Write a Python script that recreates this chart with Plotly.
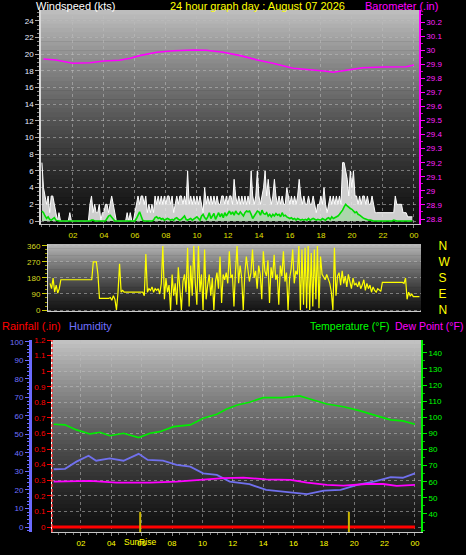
import plotly.graph_objects as go

W, H = 466, 555

# ---------------- DATA ----------------
hours10 = [round(i * 0.1, 1) for i in range(240)]

wind_gust = [
    7, 4, 3, 2, 3, 1, 3, 3, 2, 1,
    0, 1, 0, 0, 0, 0, 0, 0, 1, 0,
    0, 0, 0, 0, 0, 0, 0, 0, 0, 0,
    0, 2, 3, 1, 2, 1, 1, 2, 0, 1,
    1, 2, 2, 1, 2, 3, 2, 1, 0, 0,
    0, 0, 0, 0, 0, 1, 0, 1, 0, 0,
    1, 2, 3, 2, 3, 3, 2, 3, 1, 2,
    1, 2, 1, 3, 2, 3, 2, 3, 2, 3,
    2, 3, 3, 2, 3, 1, 2, 3, 2, 3,
    3, 2, 3, 2, 6, 2, 3, 2, 3, 2,
    3, 2, 3, 2, 1, 4, 2, 3, 2, 3,
    2, 3, 2, 3, 2, 2, 3, 3, 2, 3,
    2, 3, 3, 2, 5, 3, 2, 3, 2, 3,
    2, 3, 2, 3, 2, 6, 3, 2, 3, 6,
    3, 2, 3, 4, 6, 3, 5, 3, 2, 3,
    5, 3, 2, 3, 2, 3, 2, 2, 4, 3,
    2, 3, 2, 3, 2, 3, 5, 3, 2, 3,
    2, 2, 3, 2, 2, 3, 2, 1, 2, 2,
    3, 2, 4, 2, 1, 2, 3, 2, 3, 2,
    3, 2, 3, 2, 7, 7, 6, 5, 3, 6,
    4, 6, 3, 3, 2, 3, 2, 3, 3, 2,
    3, 2, 2, 3, 2, 1, 1, 1, 1, 1,
    1, 1, 1, 1, 1, 1, 1, 1, 3, 2,
    2, 2, 2, 1, 1, 1, 0.5, 0.5, 0.5, 0.5,
]

wind_avg = [
    1.2, 1.0, 0.6, 0.3, 0.5, 0.2, 0.1, 0.3, 0.4, 0.1,
    0, 0, 0, 0, 0, 0, 0, 0, 0, 0,
    0, 0, 0, 0, 0, 0, 0, 0, 0, 0,
    0, 0, 0.1, 0.1, 0, 0, 0, 0, 0, 0,
    0, 0, 0.3, 0.6, 0.7, 0.5, 0.2, 0, 0, 0,
    0, 0, 0, 0, 0, 0, 0, 0, 0, 0,
    0, 0.3, 0.8, 1.1, 0.6, 0.1, 0, 0, 0, 0,
    0, 0, 0.1, 0.4, 0.5, 0.3, 0.4, 0.2, 0.3, 0.1,
    0.2, 0.3, 0.2, 0.1, 0.2, 0.1, 0.3, 0.4, 0.2, 0.1,
    0.2, 0.4, 0.6, 0.2, 0.1, 0.2, 0.3, 0.1, 0.2, 0.3,
    0.5, 0.3, 0.1, 0.6, 0.8, 0.4, 0.2, 0.5, 1.0, 0.3,
    0.6, 0.9, 0.2, 0.7, 1.0, 0.5, 0.9, 0.4, 1.0, 0.6,
    0.9, 1.2, 0.8, 1.1, 0.7, 1.2, 0.9, 0.8, 1.1, 0.9,
    0.6, 1.0, 1.2, 1.1, 1.2, 0.8, 0.3, 0.6, 1.0, 1.2,
    1.1, 0.7, 1.3, 0.9, 0.8, 1.0, 0.6, 0.8, 0.5, 0.8,
    0.6, 0.9, 0.7, 0.8, 0.5, 1.0, 0.6, 0.7, 0.5, 0.4,
    0.3, 0.4, 0.2, 0.3, 0.1, 0.3, 0.2, 0.1, 0.2, 0.1,
    0.2, 0.1, 0.3, 0.1, 0.2, 0.3, 0.2, 0.1, 0.2, 0.1,
    0.1, 0.3, 0.2, 0.1, 0.3, 0.4, 0.2, 0.5, 0.3, 0.4,
    0.4, 0.6, 0.8, 1.0, 1.3, 1.7, 2.0, 1.8, 1.6, 1.5,
    1.4, 1.2, 1.0, 1.1, 0.8, 0.7, 0.5, 0.4, 0.3, 0.2,
    0.2, 0.1, 0.1, 0, 0, 0, 0, 0, 0, 0,
    0, 0, 0, 0, 0, 0, 0, 0.1, 0, 0,
    0, 0, 0, 0, 0, 0, 0, 0, 0, 0,
]

wind_dir = [
    150, 120, 180, 100, 140, 95, 120, 170, 170, 170,
    170, 170, 170, 170, 170, 170, 170, 170, 170, 170,
    170, 170, 170, 170, 170, 170, 170, 170, 270, 270,
    270, 200, 65, 65, 65, 65, 65, 65, 65, 70,
    55, 80, 60, 0, 100, 260, 100, 110, 100, 100,
    100, 100, 100, 100, 100, 100, 100, 100, 100, 100,
    100, 80, 315, 100, 120, 110, 130, 100, 120, 110,
    120, 90, 150, 360, 60, 180, 100, 140, 0, 200,
    80, 150, 30, 240, 120, 0, 160, 200, 100, 350,
    20, 250, 80, 360, 150, 30, 360, 100, 200, 0,
    340, 60, 140, 200, 80, 180, 0, 160, 210, 120,
    300, 40, 200, 170, 210, 150, 330, 180, 200, 20,
    220, 360, 150, 250, 180, 0, 200, 300, 230, 160,
    210, 340, 180, 220, 120, 250, 200, 60, 330, 220,
    190, 280, 40, 240, 180, 310, 170, 200, 30, 250,
    190, 330, 160, 210, 0, 180, 230, 340, 150, 220,
    200, 360, 0, 340, 30, 350, 10, 360, 0, 320,
    20, 340, 60, 360, 10, 300, 200, 180, 170, 200,
    180, 150, 100, 0, 350, 80, 190, 210, 140, 220,
    150, 190, 130, 200, 160, 120, 180, 140, 150, 130,
    160, 120, 140, 170, 110, 150, 120, 140, 100, 130,
    110, 100, 120, 110, 105, 155, 155, 155, 155, 155,
    155, 155, 155, 155, 155, 155, 155, 155, 155, 150,
    180, 60, 100, 80, 90, 75, 75, 75, 75, 75,
]

baro_hours = [0.1, 0.9, 2.0, 3.1, 4.0, 5.0, 5.7, 6.3, 7.4, 8.5, 9.8, 10.6, 11.7,
              12.8, 13.9, 14.9, 16.2, 17.1, 18.2, 18.8, 19.9, 20.7, 22.0, 23.5, 24.0]
baro = [29.937, 29.930, 29.907, 29.911, 29.923, 29.928, 29.942, 29.961, 29.985,
        29.996, 30.001, 29.999, 29.985, 29.961, 29.930, 29.907, 29.871, 29.864,
        29.852, 29.843, 29.861, 29.875, 29.880, 29.882, 29.895]

temp_hours = [0.2, 0.95, 1.7, 2.6, 3.25, 3.9, 4.8, 5.8, 6.55, 7.2, 8.1, 9.2, 10.05,
              10.95, 11.6, 12.3, 13.1, 14.0, 15.3, 16.4, 17.3, 18.2, 19.3, 20.4,
              21.5, 22.4, 23.2, 24.0]
temperature = [95.7, 95.3, 92.2, 89.7, 90.7, 88.6, 90.1, 87.4, 90.1, 91.1, 94.2,
               95.3, 99.4, 101.9, 105.2, 107.7, 109.4, 112.2, 112.2, 113.3, 110.8,
               108.3, 106.6, 104.0, 100.9, 98.4, 97.8, 95.7]

hum_hours = [0.2, 0.95, 1.7, 2.5, 3.0, 3.9, 4.8, 5.8, 6.4, 7.4, 8.3, 9.2, 10.05,
             10.95, 11.8, 13.1, 14.2, 15.3, 16.2, 16.9, 18.0, 19.1, 20.2, 21.3,
             22.4, 23.2, 24.0]
humidity = [31.2, 31.4, 35.3, 38.5, 35.8, 37.1, 35.8, 39.5, 36.2, 35.8, 33.5,
            32.6, 29.0, 28.1, 24.5, 23.1, 20.0, 19.1, 18.7, 17.8, 19.6, 20.0,
            22.7, 24.5, 26.9, 26.6, 29.0]

dew_hours = [0.2, 2.6, 4.35, 6.55, 8.3, 9.85, 11.4, 12.7, 14.2, 15.8, 16.9, 18.2,
             19.3, 20.8, 21.9, 22.8, 24.0]
dew_point = [60.1, 60.5, 59.4, 59.4, 60.1, 61.1, 62.2, 62.5, 61.5, 61.1, 59.4,
             58.0, 57.6, 58.6, 58.6, 57.4, 58.0]

rain_hours = [0, 2, 4, 6, 8, 10, 12, 14, 16, 18, 20, 22, 24]
rainfall = [0, 0, 0, 0, 0, 0, 0, 0, 0, 0, 0, 0, 0]

sunrise_hour = 5.9
sunset_hour = 19.65

hour_ticks = [2, 4, 6, 8, 10, 12, 14, 16, 18, 20, 22, 24]
hour_labels = ["02", "04", "06", "08", "10", "12", "14", "16", "18", "20", "22", "00"]
dir_ticks = [0, 90, 180, 270, 360]
dir_letters = ["N", "E", "S", "W", "N"]
temp_ticks = [40, 50, 60, 70, 80, 90, 100, 110, 120, 130, 140]

title_text = "24 hour graph day : August 07 2026"

# ---------------- LAYOUT HELPERS ----------------
def px(x):
    return x / W


def py(y):
    return 1 - y / H


FONT = "Liberation Sans, Arial, sans-serif"
GRID = "rgba(190,190,190,0.55)"

# panel pixel boxes (left, top, right, bottom)
P1 = (41, 10, 419, 224)
P2 = (48, 244, 421, 311)
P3 = (52, 340, 421, 532)


def gradient(box, top, bottom, n=48, gamma=1.3):
    l, t, r, b = box
    shapes = []
    for i in range(n):
        f = (i + 0.5) / n
        v = int(bottom + (top - bottom) * (1 - f) ** gamma)
        y0 = t + (b - t) * i / n
        y1 = t + (b - t) * (i + 1) / n
        shapes.append(dict(type="rect", xref="paper", yref="paper",
                           x0=px(l), x1=px(r), y0=py(y1 + 0.6), y1=py(y0),
                           fillcolor=f"rgb({v},{v},{v})", line=dict(width=0),
                           layer="below"))
    return shapes


fig = go.Figure()

# Panel 1: wind + barometer
fig.add_trace(go.Scatter(x=hours10, y=wind_gust, xaxis="x", yaxis="y", mode="lines",
                         line=dict(color="#ffffff", width=1), fill="tozeroy",
                         fillcolor="rgba(232,232,232,0.88)", hoverinfo="skip"))
fig.add_trace(go.Scatter(x=hours10, y=wind_avg, xaxis="x", yaxis="y", mode="lines",
                         line=dict(color="#00dd00", width=1.6), fill="tozeroy",
                         fillcolor="rgba(110,230,110,0.35)", hoverinfo="skip"))
fig.add_trace(go.Scatter(x=baro_hours, y=baro, xaxis="x", yaxis="y2", mode="lines",
                         line=dict(color="#ff00ff", width=1.6), hoverinfo="skip"))

# Panel 2: wind direction
fig.add_trace(go.Scatter(x=hours10, y=wind_dir, xaxis="x2", yaxis="y3", mode="lines",
                         line=dict(color="#ffff00", width=1.2), hoverinfo="skip"))
fig.add_trace(go.Scatter(x=hours10, y=wind_dir, xaxis="x2", yaxis="y4", mode="lines",
                         line=dict(color="rgba(0,0,0,0)", width=0), hoverinfo="skip"))

# Panel 3: rain, humidity, temperature, dew point
fig.add_trace(go.Scatter(x=temp_hours, y=temperature, xaxis="x3", yaxis="y7", mode="lines",
                         line=dict(color="#00ee00", width=1.6), hoverinfo="skip"))
fig.add_trace(go.Scatter(x=dew_hours, y=dew_point, xaxis="x3", yaxis="y7", mode="lines",
                         line=dict(color="#ff00ff", width=1.8), hoverinfo="skip"))
fig.add_trace(go.Scatter(x=hum_hours, y=humidity, xaxis="x3", yaxis="y6", mode="lines",
                         line=dict(color="#7070ee", width=1.8), hoverinfo="skip"))
fig.add_trace(go.Scatter(x=rain_hours, y=rainfall, xaxis="x3", yaxis="y5", mode="lines",
                         line=dict(color="#ff0000", width=3), hoverinfo="skip"))

shapes = []
shapes += gradient(P1, 192, 16)
shapes += gradient(P2, 185, 22)
shapes += gradient(P3, 196, 16)

# sunrise / sunset markers
for h in (sunrise_hour, sunset_hour):
    shapes.append(dict(type="line", xref="x3", yref="y5 domain", x0=h, x1=h,
                       y0=0, y1=0.105, line=dict(color="#c8b400", width=2), layer="above"))
# dashed red rain axis line
shapes.append(dict(type="line", xref="x3 domain", yref="y5 domain", x0=0, x1=0, y0=0, y1=1,
                   line=dict(color="#ff3030", width=1.5, dash="3px,2px"), layer="above"))

annotations = [
    dict(text="Windspeed (kts)", x=px(34), y=py(6), xanchor="left", yanchor="middle",
         font=dict(family=FONT, size=11, color="#ffffff")),
    dict(text=title_text, x=px(257), y=py(6), xanchor="center", yanchor="middle",
         font=dict(family=FONT, size=11, color="#ffff00")),
    dict(text="Barometer (.in)", x=px(440), y=py(6), xanchor="right", yanchor="middle",
         font=dict(family=FONT, size=11, color="#ff00ff")),
    dict(text="Rainfall (.in)", x=px(0), y=py(326), xanchor="left", yanchor="middle",
         font=dict(family=FONT, size=11, color="#ff0000")),
    dict(text="Humidity", x=px(67), y=py(326), xanchor="left", yanchor="middle",
         font=dict(family=FONT, size=11, color="#7070ff")),
    dict(text="Temperature (°F)", x=px(391), y=py(326), xanchor="right", yanchor="middle",
         font=dict(family=FONT, size=10.5, color="#00ff00")),
    dict(text="Dew Point (°F)", x=px(393), y=py(326), xanchor="left", yanchor="middle",
         font=dict(family=FONT, size=10.5, color="#ff00ff")),
    dict(text="SunRise", x=sunrise_hour, xref="x3", y=py(542), yref="paper",
         xanchor="center", yanchor="middle",
         font=dict(family=FONT, size=8.5, color="#ffff00")),
]
for a in annotations:
    a.setdefault("xref", "paper")
    a.setdefault("yref", "paper")
    a["showarrow"] = False

xcommon = dict(tickvals=hour_ticks, ticktext=hour_labels, showgrid=True, gridcolor=GRID,
               griddash="dot", gridwidth=1, zeroline=False, ticks="outside", ticklen=3,
               tickcolor="#888888", showline=True, linecolor="#c8c8c8", linewidth=1,
               automargin=False,
               minor=dict(dtick=0.5, ticks="outside", ticklen=2, tickcolor="#777777",
                          showgrid=False))

fig.update_layout(
    width=W, height=H, margin=dict(l=0, r=0, t=0, b=0, autoexpand=False),
    paper_bgcolor="#000000", plot_bgcolor="rgba(0,0,0,0)", showlegend=False,
    font=dict(family=FONT, size=8, color="#ffffff"),
    shapes=shapes, annotations=annotations,
    xaxis=dict(domain=[px(P1[0]), px(P1[2])], anchor="y", range=[-0.06, 24.33],
               tickfont=dict(family=FONT, size=8, color="#e0e000"), **xcommon),
    yaxis=dict(domain=[py(P1[3]), py(P1[1])], anchor="x", range=[-0.36, 25.3],
               tickvals=list(range(0, 25, 2)), showgrid=True, gridcolor=GRID,
               griddash="dot", zeroline=False, ticks="outside", ticklen=4,
               tickcolor="#aaaaaa", showline=True, linecolor="#d8d8d8", linewidth=1.5,
               tickfont=dict(family=FONT, size=8, color="#e8eeff"), automargin=False,
               minor=dict(dtick=0.5, ticks="outside", ticklen=2, tickcolor="#888888",
                          showgrid=False)),
    yaxis2=dict(overlaying="y", side="right", anchor="x", range=[28.7645, 30.2854],
                dtick=0.1, tick0=28.8, showgrid=False, zeroline=False, ticks="outside",
                ticklen=4, tickcolor="#ff00ff", showline=True, linecolor="#ff00ff",
                linewidth=1.5, tickfont=dict(family=FONT, size=8, color="#ff22ff"),
                automargin=False,
                minor=dict(dtick=0.05, ticks="outside", ticklen=2, tickcolor="#cc00cc")),
    xaxis2=dict(domain=[px(P2[0]), px(P2[2])], anchor="y3", range=[-0.13, 24],
                showticklabels=False, showgrid=False, zeroline=False, showline=True,
                linecolor="#cccccc", tickvals=hour_ticks, automargin=False),
    yaxis3=dict(domain=[py(P2[3]), py(P2[1])], anchor="x2", range=[-5.6, 371],
                tickvals=dir_ticks, showgrid=True, gridcolor=GRID, griddash="dot",
                zeroline=False, ticks="outside", ticklen=5, tickcolor="#c8c800",
                showline=True, linecolor="#d8d8d8", automargin=False,
                tickfont=dict(family=FONT, size=8, color="#d8d820"),
                minor=dict(dtick=22.5, ticks="outside", ticklen=2, tickcolor="#a0a000")),
    yaxis4=dict(overlaying="y3", side="right", anchor="x2", range=[-5.6, 371],
                tickvals=dir_ticks, ticktext=dir_letters, showgrid=False, zeroline=False,
                ticks="outside", ticklen=14, tickcolor="rgba(0,0,0,0)", showline=False,
                automargin=False,
                tickfont=dict(family=FONT, size=12, color="#ffff00")),
    xaxis3=dict(domain=[px(P3[0]), px(P3[2])], anchor="y5", range=[0.09, 24.4],
                tickfont=dict(family=FONT, size=8, color="#ffff00"), **xcommon),
    yaxis5=dict(domain=[py(P3[3]), py(P3[1])], anchor="x3", range=[-0.032, 1.2],
                dtick=0.1, tick0=0, showgrid=True, gridcolor=GRID, griddash="dot",
                zeroline=False, ticks="outside", ticklen=4, tickcolor="#ff0000",
                showline=True, linecolor="#ffffff", linewidth=1, automargin=False,
                tickfont=dict(family=FONT, size=8, color="#ff0000"),
                tickformat="~g"),
    yaxis6=dict(overlaying="y5", side="left", anchor="free", position=px(30),
                range=[-2.7, 101], dtick=10, showgrid=False, zeroline=False,
                ticks="outside", ticklen=4, tickcolor="#6a6aff", showline=True,
                linecolor="#6a6aff", linewidth=3, automargin=False,
                tickfont=dict(family=FONT, size=8, color="#7070ff"),
                minor=dict(dtick=2, ticks="outside", ticklen=2, tickcolor="#6a6aff")),
    yaxis7=dict(overlaying="y5", side="right", anchor="x3", range=[28.8, 148],
                tickvals=temp_ticks, showgrid=False, zeroline=False, ticks="outside",
                ticklen=4, tickcolor="#00ee00", showline=True, linecolor="#00ee00",
                linewidth=2, tickfont=dict(family=FONT, size=8, color="#00ff00"),
                automargin=False,
                minor=dict(dtick=5, ticks="outside", ticklen=2, tickcolor="#00bb00")),
)

fig.write_html(
    "out.html",
    config={"displayModeBar": False},
    post_script="document.body.style.margin='0';document.body.style.overflow='hidden';",
)
